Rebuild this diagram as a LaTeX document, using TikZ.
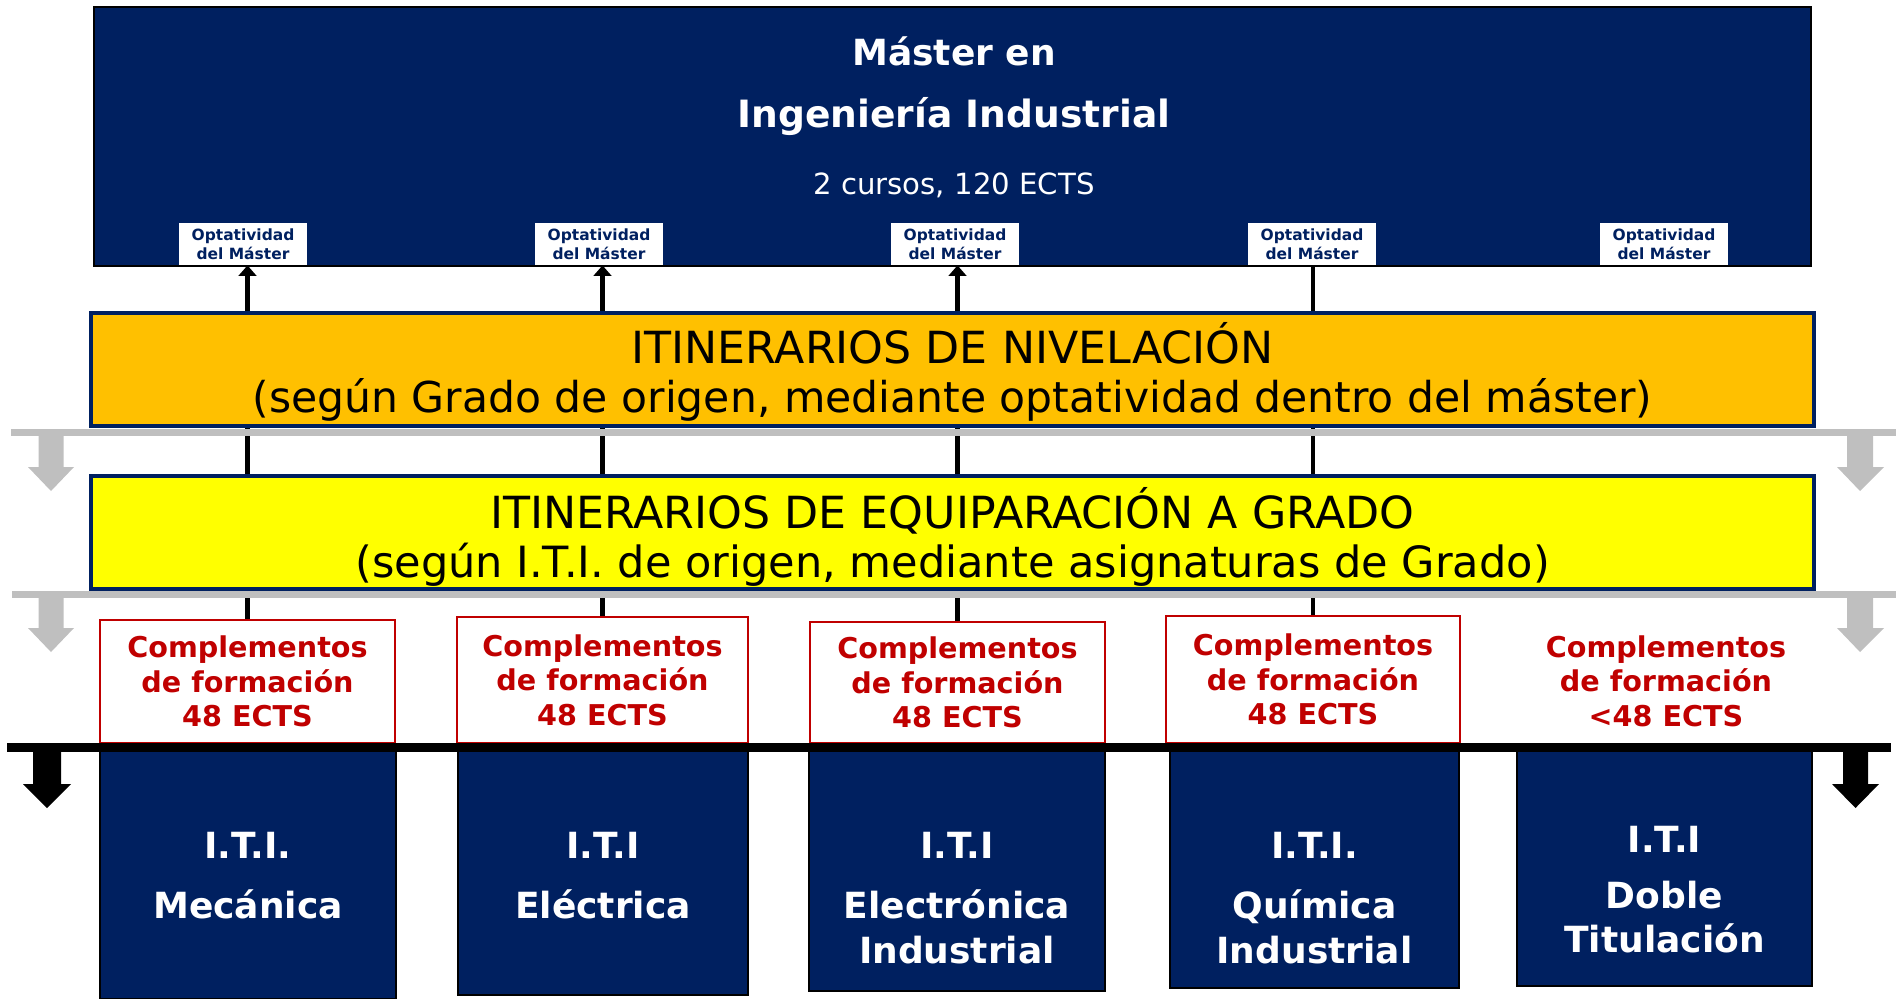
\documentclass[tikz,border=0pt]{standalone}
\usepackage{fontspec}
\setmainfont{DejaVu Sans}
\usepackage{xcolor}
\usepackage{tikz}
\usetikzlibrary{arrows.meta}
\definecolor{navycol}{RGB}{0,32,96}
\definecolor{nivelcol}{RGB}{255,192,0}
\definecolor{equipcol}{RGB}{255,255,0}
\definecolor{compcol}{RGB}{192,0,0}
\definecolor{barcol}{RGB}{191,191,191}
\tikzset{
  masterbox/.style={rectangle,draw=black,fill=navycol,line width=1.5pt,inner sep=0pt},
  mtxt/.style={anchor=base,inner sep=0pt,text=white},
  optbox/.style={rectangle,fill=white,text=navycol,align=center,inner sep=0pt,minimum width=2.56cm,minimum height=0.84cm,font=\fontsize{8.8}{10.6}\selectfont\bfseries},
  itinbox/.style={rectangle,draw=navycol,line width=2.2pt,minimum width=34.46cm,minimum height=2.26cm,inner sep=0pt},
  itintxt/.style={anchor=base,inner sep=0pt,font=\fontsize{24.5}{29}\selectfont},
  compbox/.style={rectangle,draw=compcol,fill=white,line width=1.2pt,text=compcol,align=center,inner sep=0pt,font=\fontsize{16.3}{19.6}\selectfont\bfseries},
  itibox/.style={rectangle,draw=black,fill=navycol,line width=0.8pt,inner sep=0pt},
  ititxt/.style={anchor=base,inner sep=0pt,text=white,font=\fontsize{20.5}{24}\selectfont\bfseries},
  link/.style={line width=2.4pt},
  optarr/.style={link,-{Triangle[width=10pt,length=6pt]}}
}
\begin{document}
\begin{tikzpicture}[x=0.02cm,y=-0.02cm]
  \useasboundingbox (0,0) rectangle (1896,998);
  % master
  \node[masterbox,minimum width=34.34cm,minimum height=5.18cm] (master) at (952.5,136.5) {};
  \node[mtxt,font=\fontsize{20.5}{24}\selectfont\bfseries] (m1) at (954,65) {Máster en};
  \node[mtxt,font=\fontsize{21.4}{25}\selectfont\bfseries] (m2) at (954,127) {Ingeniería Industrial};
  \node[mtxt,font=\fontsize{16.6}{19}\selectfont] (m3) at (954,194) {2 cursos, 120 ECTS};
  \node[optbox] (opt1) at (243,244) {Optatividad\\del Máster};
  \node[optbox] (opt2) at (599,244) {Optatividad\\del Máster};
  \node[optbox] (opt3) at (955,244) {Optatividad\\del Máster};
  \node[optbox] (opt4) at (1312,244) {Optatividad\\del Máster};
  \node[optbox] (opt5) at (1664,244) {Optatividad\\del Máster};
  % itinerarios
  \node[itinbox,fill=nivelcol] (nivel) at (952.5,369.5) {};
  \node[itintxt,font=\fontsize{25.2}{29}\selectfont] (n1) at (952.5,363) {ITINERARIOS DE NIVELACIÓN};
  \node[itintxt,font=\fontsize{24.2}{29}\selectfont] (n2) at (952.5,412) {(según Grado de origen, mediante optatividad dentro del máster)};
  \node[itinbox,fill=equipcol] (equip) at (952.5,532.5) {};
  \node[itintxt,font=\fontsize{25.2}{29}\selectfont] (e1) at (952.5,528) {ITINERARIOS DE EQUIPARACIÓN A GRADO};
  \node[itintxt] (e2) at (952.5,577) {(según I.T.I. de origen, mediante asignaturas de Grado)};
  % complementos
  \node[compbox,minimum width=5.9cm,minimum height=2.46cm] (comp1) at (247.5,681.5) {Complementos\\de formación\\48 ECTS};
  \node[compbox,minimum width=5.82cm,minimum height=2.52cm] (comp2) at (602.5,680) {Complementos\\de formación\\48 ECTS};
  \node[compbox,minimum width=5.9cm,minimum height=2.42cm] (comp3) at (957.5,682.5) {Complementos\\de formación\\48 ECTS};
  \node[compbox,minimum width=5.88cm,minimum height=2.54cm] (comp4) at (1313,679.5) {Complementos\\de formación\\48 ECTS};
  \node[compbox,draw=none,fill=none] (comp5) at (1666,681) {Complementos\\de formación\\<48 ECTS};
  % connectors
  \draw[optarr] (nivel.north -| comp1) -- (opt1.south -| comp1);
  \draw[optarr] (nivel.north -| comp2) -- (opt2.south -| comp2);
  \draw[optarr] (nivel.north -| comp3) -- (opt3.south -| comp3);
  \draw[link] (nivel.north -| comp4) -- (opt4.south -| comp4);
  \draw[link] (nivel.south -| comp1) -- (equip.north -| comp1);
  \draw[link] (nivel.south -| comp2) -- (equip.north -| comp2);
  \draw[link] (nivel.south -| comp3) -- (equip.north -| comp3);
  \draw[link] (nivel.south -| comp4) -- (equip.north -| comp4);
  \draw[link] (equip.south -| comp1) -- (comp1.north);
  \draw[link] (equip.south -| comp2) -- (comp2.north);
  \draw[link] (equip.south -| comp3) -- (comp3.north);
  \draw[link] (equip.south -| comp4) -- (comp4.north);
  % grey bars
  \fill[barcol] (11,429) rectangle (1896,436);
  \fill[barcol] (38.5,436) -- (63.5,436) -- (63.5,467) -- (74,467) -- (51,491) -- (28,467) -- (38.5,467) -- cycle;
  \fill[barcol] (1847,436) -- (1873,436) -- (1873,467) -- (1884,467) -- (1860,491) -- (1837,467) -- (1847,467) -- cycle;
  \fill[barcol] (12,591) rectangle (1896,598);
  \fill[barcol] (38.5,598) -- (63.5,598) -- (63.5,628) -- (74,628) -- (51,652) -- (28,628) -- (38.5,628) -- cycle;
  \fill[barcol] (1847,598) -- (1873,598) -- (1873,628) -- (1884,628) -- (1860,652) -- (1837,628) -- (1847,628) -- cycle;
  % I.T.I.
  \node[itibox,minimum width=5.92cm,minimum height=4.96cm] (iti1) at (248,875) {};
  \node[itibox,minimum width=5.8cm,minimum height=4.88cm] (iti2) at (603,873) {};
  \node[itibox,minimum width=5.92cm,minimum height=4.8cm] (iti3) at (957,871) {};
  \node[itibox,minimum width=5.78cm,minimum height=4.74cm] (iti4) at (1314.5,869.5) {};
  \node[itibox,minimum width=5.9cm,minimum height=4.7cm] (iti5) at (1664.5,868.5) {};
  \node[ititxt] (t1a) at (248,858) {I.T.I.};
  \node[ititxt] (t1b) at (248,918) {Mecánica};
  \node[ititxt] (t2a) at (603,858) {I.T.I};
  \node[ititxt] (t2b) at (603,918) {Eléctrica};
  \node[ititxt] (t3a) at (957,858) {I.T.I};
  \node[ititxt] (t3b) at (957,918) {Electrónica};
  \node[ititxt] (t3c) at (957,963) {Industrial};
  \node[ititxt] (t4a) at (1314.5,858) {I.T.I.};
  \node[ititxt] (t4b) at (1314.5,918) {Química};
  \node[ititxt] (t4c) at (1314.5,963) {Industrial};
  \node[ititxt] (t5a) at (1664.5,852) {I.T.I};
  \node[ititxt] (t5b) at (1664.5,908) {Doble};
  \node[ititxt] (t5c) at (1664.5,952) {Titulación};
  % black line
  \fill[black] (7,743) rectangle (1891,752);
  \fill[black] (33,752) -- (61,752) -- (61,784) -- (71,784) -- (47,808) -- (23,784) -- (33,784) -- cycle;
  \fill[black] (1843,752) -- (1868,752) -- (1868,784) -- (1879,784) -- (1855.5,808) -- (1832,784) -- (1843,784) -- cycle;
\end{tikzpicture}
\end{document}
